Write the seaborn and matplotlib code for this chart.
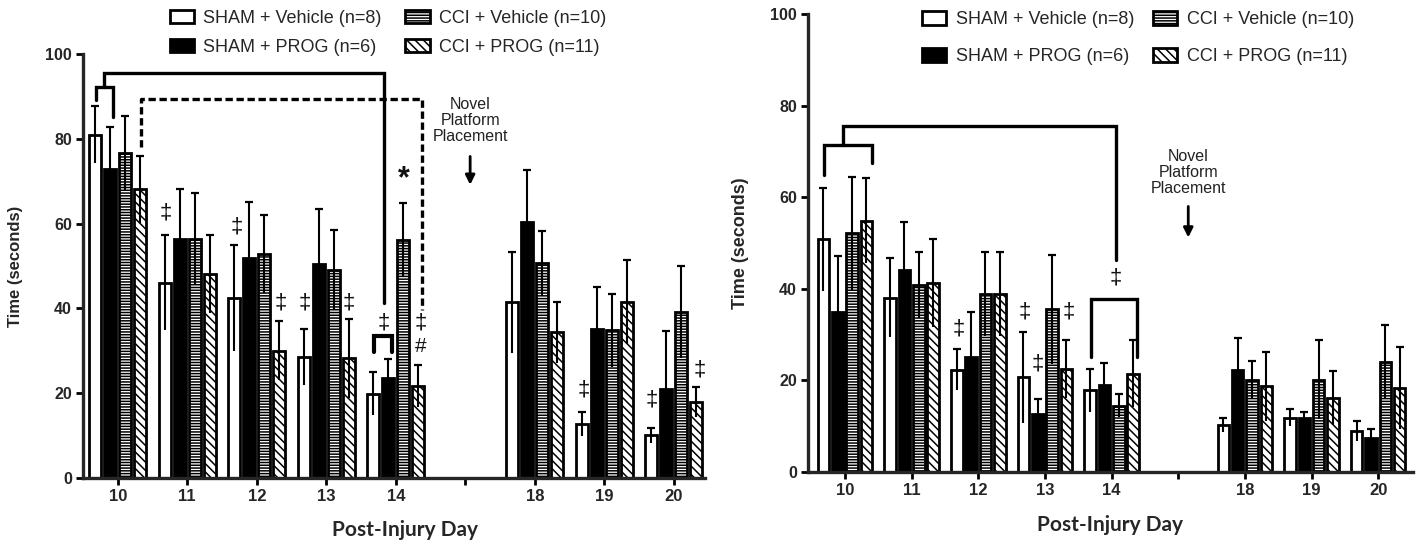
import matplotlib
matplotlib.use("Agg")
import matplotlib.pyplot as plt
import seaborn as sns
import pandas as pd
from matplotlib.patches import Patch
from matplotlib.container import BarContainer
from matplotlib.transforms import ScaledTranslation

# ---------------- data ----------------
slots = ["10", "11", "12", "13", "14", "", "18", "19", "20"]
days = ["10", "11", "12", "13", "14", "18", "19", "20"]
groups = ["SHAM + Vehicle (n=8)", "SHAM + PROG (n=6)",
          "CCI + Vehicle (n=10)", "CCI + PROG (n=11)"]

left_sham_veh = [81.0, 46.1, 42.4, 28.6, 19.9, 41.4, 12.7, 10.1]
left_sham_veh_sem = [6.8, 11.2, 12.5, 6.6, 5.1, 12.0, 2.9, 1.8]
left_sham_prog = [72.8, 56.4, 52.0, 50.4, 23.7, 60.4, 35.1, 21.0]
left_sham_prog_sem = [10.0, 11.8, 13.1, 13.0, 4.4, 12.2, 9.9, 13.7]
left_cci_veh = [76.7, 56.4, 52.8, 49.1, 56.1, 50.6, 34.9, 39.1]
left_cci_veh_sem = [8.7, 10.9, 9.2, 9.4, 8.8, 7.7, 8.6, 10.9]
left_cci_prog = [68.1, 48.1, 30.0, 28.2, 21.7, 34.4, 41.4, 17.9]
left_cci_prog_sem = [7.9, 9.1, 7.0, 9.4, 4.9, 7.2, 9.9, 3.6]

right_sham_veh = [50.8, 38.1, 22.3, 20.7, 17.8, 10.3, 11.9, 9.0]
right_sham_veh_sem = [11.3, 8.7, 4.5, 9.9, 4.7, 1.6, 1.9, 2.2]
right_sham_prog = [34.9, 44.1, 25.2, 12.7, 19.1, 22.3, 11.9, 7.4]
right_sham_prog_sem = [12.3, 10.4, 9.7, 3.2, 4.8, 7.0, 1.3, 2.1]
right_cci_veh = [52.1, 40.8, 38.9, 35.5, 14.5, 20.2, 20.2, 24.0]
right_cci_veh_sem = [12.4, 7.2, 9.1, 11.9, 2.5, 4.0, 8.6, 8.1]
right_cci_prog = [54.9, 41.2, 38.9, 22.5, 21.5, 18.7, 16.2, 18.4]
right_cci_prog_sem = [9.2, 9.6, 9.1, 6.4, 7.4, 7.5, 5.9, 9.0]

y_ticks = [0, 20, 40, 60, 80, 100]

# ---------------- style ----------------
sns.set_style("ticks")
plt.rcParams["font.family"] = ["Liberation Sans", "DejaVu Sans"]
plt.rcParams["hatch.linewidth"] = 1.1

faces = ["white", "black", "white", "white"]
hatches = ["", "", "------", "\\\\\\\\"]
INK = "#111111"

W, H = 1420.0, 546.0
fig = plt.figure(figsize=(14.2, 5.46), dpi=100)
axL = fig.add_axes([0.0585, 0.1245, 0.438, 0.7766])
axR = fig.add_axes([0.569, 0.1355, 0.426, 0.8388])


def draw_panel(ax, means, sems, xlim, ylab_x, ylab_size, xlab_px):
    rows = []
    for g, vals in zip(groups, means):
        for d, v in zip(days, vals):
            rows.append({"day": d, "time": v, "group": g})
    df = pd.DataFrame(rows)
    sns.barplot(data=df, x="day", y="time", hue="group", order=slots,
                hue_order=groups, palette=dict(zip(groups, faces)),
                saturation=1, edgecolor="black", linewidth=2.0,
                width=0.86, gap=0.2, errorbar=None, legend=False, ax=ax)
    bar_conts = [c for c in ax.containers if isinstance(c, BarContainer)]
    for gi, cont in enumerate(bar_conts):
        for bar in cont:
            if bar is None:
                continue
            bar.set_hatch(hatches[gi])
            bar.set_edgecolor("black")
            xc = bar.get_x() + bar.get_width() / 2
            h = bar.get_height()
            d = slots[int(round(xc))]
            if d not in days:
                continue
            sem = sems[gi][days.index(d)]
            eb = ax.errorbar(xc, h, yerr=sem, fmt="none", ecolor="black",
                             elinewidth=1.5, capsize=2.6, capthick=1.6,
                             zorder=5)
            caps = eb[1]
            if len(caps) == 2:
                lo = min(caps, key=lambda c: c.get_ydata()[0])
                lo.set_visible(False)
    ax.set_xlim(*xlim)
    ax.set_ylim(0, 100)
    ax.set_yticks(y_ticks)
    ax.set_yticklabels([str(t) for t in y_ticks], fontsize=11.5,
                       fontweight="bold")
    ax.set_xticks(range(len(slots)))
    ax.set_xticklabels(slots, fontsize=12, fontweight="bold")
    for lab, txt in zip(ax.get_xticklabels(), slots):
        if txt in ("10", "18"):
            lab.set_transform(lab.get_transform() +
                              ScaledTranslation(0.19, 0, fig.dpi_scale_trans))
    sns.despine(ax=ax)
    for s in ("left", "bottom"):
        ax.spines[s].set_linewidth(2.4)
    ax.tick_params(axis="both", width=2, length=5, pad=3, color="black")
    ax.set_ylabel("Time (seconds)", fontsize=ylab_size, fontweight="bold")
    ax.yaxis.set_label_coords(ylab_x, 0.5)
    ax.set_xlabel("Post-Injury Day", fontsize=15, fontweight="bold",
                  family=["Lato", "DejaVu Sans"], va="center")
    ax.xaxis.set_label_coords(xlab_px[0] / W, 1 - xlab_px[1] / H,
                              transform=fig.transFigure)


draw_panel(axL,
           [left_sham_veh, left_sham_prog, left_cci_veh, left_cci_prog],
           [left_sham_veh_sem, left_sham_prog_sem, left_cci_veh_sem,
            left_cci_prog_sem],
           (-0.5, 8.45), -0.097, 12, (405, 530))
draw_panel(axR,
           [right_sham_veh, right_sham_prog, right_cci_veh, right_cci_prog],
           [right_sham_veh_sem, right_sham_prog_sem, right_cci_veh_sem,
            right_cci_prog_sem],
           (-0.555, 8.52), -0.098, 13, (1110, 525))

# ---------------- annotations: left ----------------
lw = 2.4
axL.plot([-0.32, -0.32, -0.07, -0.07], [89.2, 92.1, 92.1, 85.2],
         color="black", lw=lw, solid_joinstyle="miter", zorder=6)
axL.plot([-0.20, -0.20, 3.83, 3.83], [92.1, 95.6, 95.6, 41.3],
         color="black", lw=lw, solid_joinstyle="miter", zorder=6)
axL.plot([3.68, 3.68, 3.95, 3.95], [29.8, 33.5, 33.5, 29.8],
         color="black", lw=3, solid_joinstyle="miter", zorder=6)
axL.plot([0.335, 0.335, 4.375, 4.375], [78.1, 89.4, 89.4, 39.6],
         color="black", lw=lw, ls=(0, (2.2, 1.1)), zorder=6)
axL.text(4.11, 70.5, "*", fontsize=22, ha="center", va="center",
         color=INK, fontweight="bold")
axL.text(4.36, 31.1, "#", fontsize=15, ha="center", va="center", color=INK)
for x, y in [(0.69, 62.5), (1.71, 59.3), (2.35, 41.2), (2.69, 41.2),
             (3.33, 41.2), (3.83, 36.5), (4.36, 36.5), (6.71, 20.8),
             (7.69, 18.4), (8.38, 25.5)]:
    axL.text(x, y, "\u2021", fontsize=16, ha="center", va="center", color=INK)
axL.text(5.07, 84.3, "Novel\nPlatform\nPlacement", fontsize=11.5,
         ha="center", va="center", linespacing=1.1, color="#222222")
axL.annotate("", xy=(5.07, 68.5), xytext=(5.07, 76.5),
             arrowprops=dict(arrowstyle="-|>", color="black", lw=2,
                             mutation_scale=14))

# ---------------- annotations: right ----------------
axR.plot([-0.32, -0.32, 0.40, 0.40], [64.8, 71.4, 71.4, 67.4],
         color="black", lw=lw, solid_joinstyle="miter", zorder=6)
axR.plot([-0.03, -0.03, 4.06, 4.06], [71.4, 75.6, 75.6, 46.3],
         color="black", lw=lw, solid_joinstyle="miter", zorder=6)
axR.plot([3.69, 3.69, 4.38, 4.38], [25.2, 37.8, 37.8, 25.2],
         color="black", lw=lw, solid_joinstyle="miter", zorder=6)
for x, y in [(4.06, 42.4), (1.70, 31.2), (2.70, 35.0), (2.89, 23.6),
             (3.36, 35.0)]:
    axR.text(x, y, "\u2021", fontsize=16, ha="center", va="center", color=INK)
axR.text(5.15, 65.4, "Novel\nPlatform\nPlacement", fontsize=11.5,
         ha="center", va="center", linespacing=1.1, color="#222222")
axR.annotate("", xy=(5.15, 50.6), xytext=(5.15, 58.6),
             arrowprops=dict(arrowstyle="-|>", color="black", lw=2,
                             mutation_scale=14))

# ---------------- legends ----------------
handles = [Patch(facecolor=f, edgecolor="black", hatch=h, linewidth=2)
           for f, h in zip(faces, hatches)]
fig.legend(handles, groups, loc="upper left",
           bbox_to_anchor=(170 / W, 1 - 10 / H), ncol=2, frameon=False,
           fontsize=13, handlelength=1.35, handleheight=0.75,
           handletextpad=0.5, columnspacing=1.3, labelspacing=0.65,
           borderpad=0, borderaxespad=0)
fig.legend(handles, groups, loc="upper left",
           bbox_to_anchor=(922 / W, 1 - 11 / H), ncol=2, frameon=False,
           fontsize=13, handlelength=1.35, handleheight=0.8,
           handletextpad=0.55, columnspacing=1.0, labelspacing=1.1,
           borderpad=0, borderaxespad=0)

fig.savefig("out.png", dpi=100)
